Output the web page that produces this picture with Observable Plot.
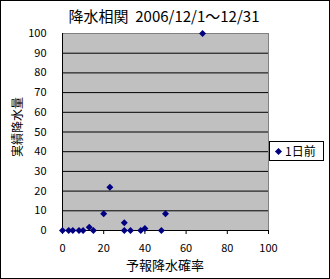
<!DOCTYPE html>
<html>
<head>
<meta charset="utf-8">
<script src="https://cdn.jsdelivr.net/npm/d3@7"></script>
<script src="https://cdn.jsdelivr.net/npm/@observablehq/plot@0.6"></script>
<style>
  html, body { margin: 0; padding: 0; background: #fff; }
  #wrap { position: relative; width: 330px; height: 279px; overflow: hidden; font-family: "Noto Sans CJK JP", sans-serif; }
  #wrap svg { position: absolute; left: 0; top: 0; }
  #border { position: absolute; left: 0; top: 0; width: 330px; height: 279px; box-sizing: border-box; border: 1px solid #000; pointer-events: none; }
  .lbl { position: absolute; white-space: pre; color: #000; line-height: 1; }
  #legend { position: absolute; left: 269px; top: 141px; width: 55px; height: 20px; box-sizing: border-box; border: 1px solid #000; background: #fff; font-size: 12px; line-height: 18px; }
  #legend .sw { position: absolute; left: 6px; top: 7px; width: 5px; height: 5px; background: #000080; transform: rotate(45deg); }
  #legend .tx { position: absolute; left: 15px; top: 0; }
</style>
</head>
<body>
<div id="wrap"></div>
<script>
// Data
const forecastProb = [0, 3, 5, 8, 10, 13, 15, 20, 23, 30, 30, 33, 38, 40, 48, 50, 68];
const actualRain   = [0, 0, 0, 0, 0, 1.7, 0, 8.5, 22, 3.9, 0, 0, 0, 1, 0, 8.5, 100];
const xTicks = [0, 20, 40, 60, 80, 100];
const yTicks = [0, 10, 20, 30, 40, 50, 60, 70, 80, 90, 100];
const titleText = "降水相関  2006/12/1～12/31";
const xLabel = "予報降水確率";
const yLabel = "実績降水量";
const seriesName = "1日前";

const data = forecastProb.map((x, i) => ({x, y: actualRain[i]}));

const chart = Plot.plot({
  width: 330,
  height: 279,
  marginLeft: 62,
  marginRight: 62,
  marginTop: 33,
  marginBottom: 49,
  style: {fontFamily: "'Noto Sans CJK JP', sans-serif", fontSize: "11px", color: "#000", background: "transparent"},
  x: {domain: [0, 100]},
  y: {domain: [0, 100]},
  marks: [
    Plot.frame({fill: "#c0c0c0", stroke: "#808080"}),
    Plot.gridY(yTicks.filter(v => v > 0 && v < 100), {stroke: "#000", strokeOpacity: 1}),
    Plot.ruleY([0], {stroke: "#000"}),
    Plot.ruleX([0], {stroke: "#000"}),
    Plot.axisX(xTicks, {tickSize: 4, tickPadding: 10, label: null, stroke: "#000"}),
    Plot.axisY(yTicks, {tickSize: 0, tickPadding: 16, label: null}),
    Plot.dot(data, {x: "x", y: "y", symbol: "diamond2", r: 3.15, fill: "#000080", stroke: "none"})
  ]
});
const wrap = document.getElementById("wrap");
wrap.appendChild(chart);

function addLabel(text, css) {
  const d = document.createElement("div");
  d.className = "lbl";
  d.textContent = text;
  Object.assign(d.style, css);
  wrap.appendChild(d);
  return d;
}
// title
addLabel(titleText, {fontSize: "15px", top: "8px", left: "0px", width: "328px", textAlign: "center"});
// x label
addLabel(xLabel, {fontSize: "13px", top: "258px", left: "62px", width: "206px", textAlign: "center"});
// y label rotated
addLabel(yLabel, {fontSize: "12px", left: "-23px", top: "121px", width: "80px", textAlign: "center", transform: "rotate(-90deg)", transformOrigin: "50% 50%"});

const lg = document.createElement("div");
lg.id = "legend";
lg.innerHTML = '<span class="sw"></span><span class="tx"></span>';
lg.querySelector(".tx").textContent = seriesName;
wrap.appendChild(lg);

const b = document.createElement("div");
b.id = "border";
wrap.appendChild(b);
</script>
</body>
</html>
